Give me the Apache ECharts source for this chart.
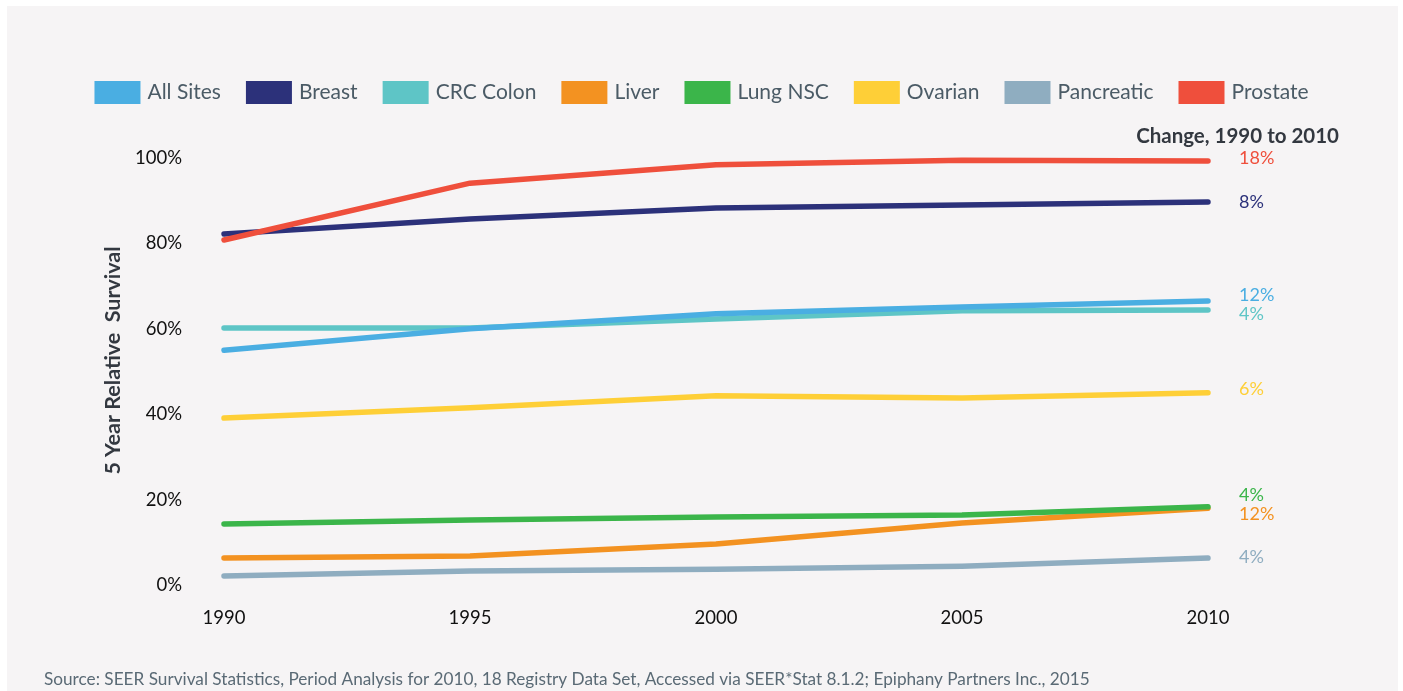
<!DOCTYPE html>
<html>
<head>
<meta charset="utf-8">
<script src="https://cdn.jsdelivr.net/npm/echarts@6/dist/echarts.min.js"></script>
<style>
html,body{margin:0;padding:0;background:#ffffff;}
#box{position:absolute;left:7px;top:6px;width:1391px;height:685px;background:#f6f4f5;}
#chart{position:absolute;left:0;top:0;width:1403px;height:691px;}
</style>
</head>
<body>
<div id="box"></div>
<div id="chart"></div>
<script>
const years = ['1990','1995','2000','2005','2010'];
const yTicks = [0, 20, 40, 60, 80, 100];
const seriesNames = ['All Sites','Breast','CRC Colon','Liver','Lung NSC','Ovarian','Pancreatic','Prostate'];
const allSites   = [55.0, 60.0, 63.5, 65.1, 66.5];
const breast     = [82.2, 85.7, 88.3, 89.0, 89.7];
const crcColon   = [60.2, 60.2, 62.3, 64.2, 64.4];
const liver      = [6.3, 6.8, 9.6, 14.5, 18.0];
const lungNSC    = [14.3, 15.2, 15.9, 16.4, 18.3];
const ovarian    = [39.1, 41.5, 44.3, 43.8, 45.0];
const pancreatic = [2.1, 3.3, 3.7, 4.4, 6.3];
const prostate   = [80.8, 94.1, 98.4, 99.5, 99.3];
const changeLabels = ['12%','8%','4%','12%','4%','6%','4%','18%'];

const values = [allSites, breast, crcColon, liver, lungNSC, ovarian, pancreatic, prostate];
const colors = ['#4aaee2','#2c317a','#5ec5c6','#f39221','#3bb54a','#fecf37','#8fadc0','#ef4f3c'];
const labelOffsets = [[23,-6],[23,0],[23,4],[23,6],[23,-12],[23,-4],[23,-1],[23,-3]];
const order = [6,3,4,5,2,0,1,7];

const font = 'Lato, "Open Sans", sans-serif';
const series = order.map(i => ({
  name: seriesNames[i],
  type: 'line',
  data: values[i],
  showSymbol: false,
  symbol: 'none',
  lineStyle: {width: 5.5, color: colors[i], cap: 'round', join: 'round'},
  itemStyle: {color: colors[i]},
  endLabel: {
    show: true,
    formatter: () => changeLabels[i],
    color: colors[i],
    fontSize: 18,
    fontFamily: font,
    offset: labelOffsets[i]
  },
  emphasis: {disabled: true},
  z: 2
}));

const chart = echarts.init(document.getElementById('chart'));
chart.setOption({
  animation: false,
  textStyle: {fontFamily: font},
  title: [{
    text: 'Change, 1990 to 2010',
    right: 59, top: 121,
    textStyle: {fontSize: 20.5, fontWeight: 'bold', color: '#333840', fontFamily: font}
  },{
    text: 'Source: SEER Survival Statistics, Period Analysis for 2010, 18 Registry Data Set, Accessed via SEER*Stat 8.1.2; Epiphany Partners Inc., 2015',
    left: 39, top: 666,
    textStyle: {fontSize: 17.2, fontWeight: 'normal', color: '#5a6a75', fontFamily: font}
  }],
  legend: {
    data: seriesNames,
    top: 76,
    left: 'center',
    itemWidth: 46,
    itemHeight: 23,
    itemGap: 25,
    icon: 'rect',
    textStyle: {fontSize: 21, color: '#4b5b66', fontFamily: font, padding: [0,0,0,2]},
    selectedMode: false
  },
  grid: {left: 224, right: 195, top: 158, bottom: 106},
  xAxis: {
    type: 'category',
    data: years,
    boundaryGap: false,
    axisLine: {show: false},
    axisTick: {show: false},
    axisLabel: {fontSize: 18.5, color: '#111', margin: 24, fontFamily: font}
  },
  yAxis: {
    type: 'value',
    min: yTicks[0], max: yTicks[yTicks.length-1], interval: 20,
    name: '5 Year Relative  Survival',
    nameLocation: 'middle',
    nameGap: 98,
    nameTextStyle: {fontSize: 21.5, fontWeight: 'bold', color: '#333840', fontFamily: font, padding: [0,0,0,22]},
    axisLine: {show: false},
    axisTick: {show: false},
    splitLine: {show: false},
    axisLabel: {fontSize: 18.5, color: '#111', margin: 42, formatter: v => v + '%', fontFamily: font}
  },
  series: series
});
</script>
</body>
</html>
